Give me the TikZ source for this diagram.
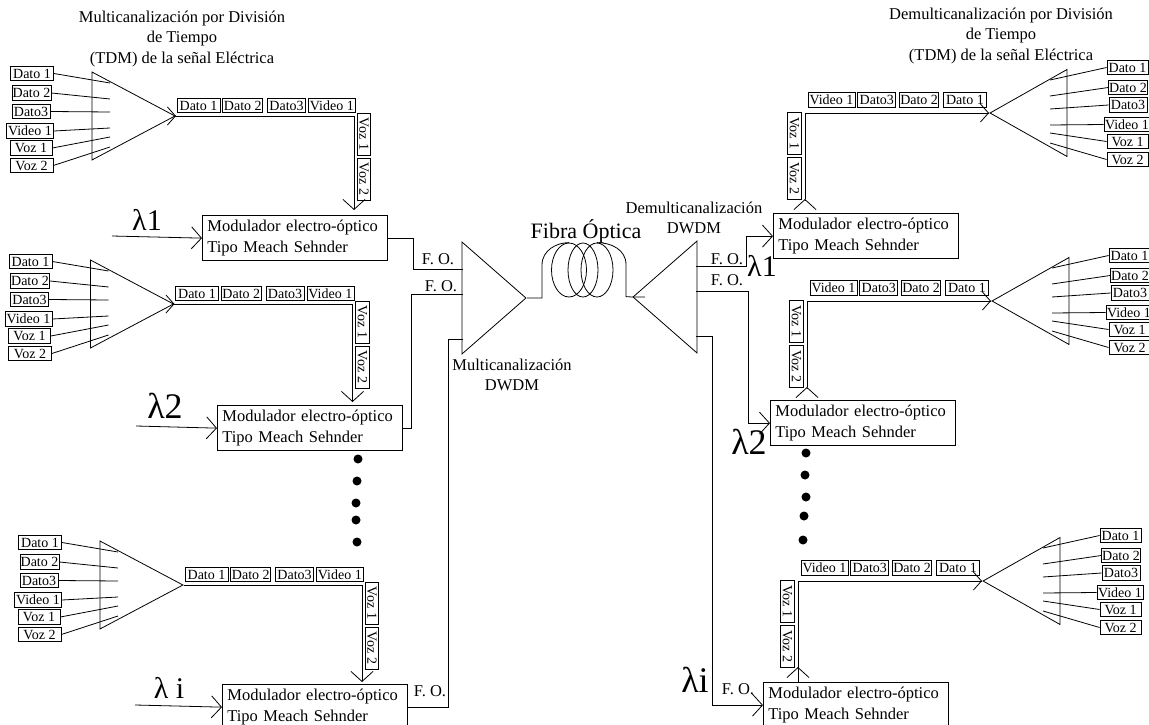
\documentclass[tikz,border=0pt]{standalone}
\usepackage{fontspec}
\setmainfont{Liberation Serif}
\usetikzlibrary{positioning, arrows.meta, shapes.geometric, calc}

\begin{document}
\begin{tikzpicture}[x=1pt, y=-1pt, line width=0.8pt,
	font=\fontsize{16.5}{20.5}\selectfont,
	databox/.style={draw, font=\fontsize{14}{14}\selectfont, inner sep=0.5pt, minimum height=14.5pt},
	vozbox/.style={databox, rotate=-90, minimum width=42pt, minimum height=13.5pt},
	modbox/.style={draw, anchor=north west, minimum width=185pt, minimum height=42pt, text width=175pt, inner sep=5pt, align=left},
	tribox/.style={draw, isosceles triangle, isosceles triangle stretches, inner sep=0pt, anchor=apex},
	coil/.style={draw, ellipse, inner sep=0pt, minimum height=54pt},
	dotmark/.style={circle, fill=black, inner sep=0pt, minimum size=9pt},
	lambdatext/.style={font=\fontsize{30}{30}\selectfont, inner sep=0pt},
	lambdabig/.style={font=\fontsize{36}{36}\selectfont, inner sep=0pt},
	link/.style={-},
	arrow/.style={-{Straight Barb[length=10pt, width=22pt]}},
	headonly/.style={-{Straight Barb[length=8pt, width=18pt]}}]
	\useasboundingbox (0,0) rectangle (1149,725);

	% Titulos
	\node[align=center] (title_l) at (182,39) {Multicanalización por División\\de Tiempo\\(TDM) de la señal Eléctrica};
	\node[align=center] (title_r) at (1001,36) {Demulticanalización por División\\de Tiempo\\(TDM) de la señal Eléctrica};

	% Moduladores
	\node[modbox] (mod_la) at (202,215) {Modulador electro-óptico\\Tipo Meach Sehnder};
	\node[modbox] (mod_lb) at (217,405) {Modulador electro-óptico\\Tipo Meach Sehnder};
	\node[modbox] (mod_lc) at (222,684) {Modulador electro-óptico\\Tipo Meach Sehnder};
	\node[modbox] (mod_ra) at (773,213) {Modulador electro-óptico\\Tipo Meach Sehnder};
	\node[modbox] (mod_rb) at (770,400) {Modulador electro-óptico\\Tipo Meach Sehnder};
	\node[modbox] (mod_rc) at (763,682) {Modulador electro-óptico\\Tipo Meach Sehnder};

	% Bloques TDM de la izquierda
	\foreach \unit/\dx/\dy/\tip in {la/0/0/210, lb/-1.5/188/214, lc/8/469/213} {
		\begin{scope}[shift={(\dx,\dy)}]
			\node[tribox, minimum width=88pt, minimum height=83pt] (tri_\unit) at (176,116) {};
			\foreach \k/\lab/\cx/\cy/\w/\ey in {1/Dato 1/32/73.5/43/83, 2/Dato 2/31.5/93/39/99, 3/Dato3/31/111.5/38/112,
				4/Video 1/30/131/47/128, 5/Voz 1/31/148/42/137, 6/Voz 2/31.5/165.5/43/147} {
				\node[databox, minimum width=\w pt] (in_\unit\k) at (\cx,\cy) {\lab};
				\coordinate (end_\unit\k) at (110,\ey);
				\draw[link] (in_\unit\k.east) -- (end_\unit\k);
			}
			\node[databox, minimum width=43pt] (top_\unit1) at (198.5,105.5) {Dato 1};
			\node[databox, minimum width=40pt, right=2pt of top_\unit1] (top_\unit2) {Dato 2};
			\node[databox, minimum width=38pt, right=4pt of top_\unit2] (top_\unit3) {Dato3};
			\node[databox, minimum width=47pt, right=2pt of top_\unit3] (top_\unit4) {Video 1};
			\node[vozbox] (voz_\unit1) at (364,134) {Voz 1};
			\node[vozbox] (voz_\unit2) at (364,179) {Voz 2};
			\coordinate (tip_\unit) at (354,\tip);
			\draw[arrow] (tri_\unit.apex) -| (tip_\unit);
		\end{scope}
	}
	\foreach \unit in {la, lb} {
		\draw[headonly] ($(tri_\unit.apex)+(-1,0)$) -- (tri_\unit.apex);
	}

	% Bloques TDM de la derecha
	\foreach \unit/\dx/\dy in {ra/0/0, rb/2/188, rc/-7/468} {
		\begin{scope}[shift={(\dx,\dy)}]
			\node[tribox, minimum width=87pt, minimum height=77pt, shape border rotate=180] (tri_\unit) at (989,113) {};
			\foreach \k/\lab/\cx/\cy/\w/\ey in {1/Dato 1/1127.5/67.5/41/80, 2/Dato 2/1128/87.5/38/96, 3/Dato3/1128/105/38/109,
				4/Video 1/1127/124.5/46/125, 5/Voz 1/1127.5/141.5/41/133, 6/Voz 2/1127.5/159.5/41/143} {
				\node[databox, minimum width=\w pt] (in_\unit\k) at (\cx,\cy) {\lab};
				\coordinate (end_\unit\k) at (1050,\ey);
				\draw[link] (in_\unit\k.west) -- (end_\unit\k);
			}
			\node[databox, minimum width=47pt] (top_\unit1) at (831.5,100) {Video 1};
			\node[databox, minimum width=38pt, right=2pt of top_\unit1] (top_\unit2) {Dato3};
			\node[databox, minimum width=39pt, right=3pt of top_\unit2] (top_\unit3) {Dato 2};
			\node[databox, minimum width=43pt, right=4pt of top_\unit3] (top_\unit4) {Dato 1};
			\node[vozbox] (voz_\unit1) at (794.5,133.5) {Voz 1};
			\node[vozbox] (voz_\unit2) at (794.5,178.5) {Voz 2};
			\coordinate (tip_\unit) at (805,199);
			\draw[link] (tri_\unit.apex) -| (tip_\unit);
			\draw[arrow] ($(tip_\unit)+(0,1)$) -- (tip_\unit);
			\draw[headonly] ($(tri_\unit.apex)+(-1,0)$) -- (tri_\unit.apex);
		\end{scope}
	}
	\draw[link] (tip_rc) -- (tip_rc |- mod_rc.north);

	% Entradas de las longitudes de onda
	\coordinate (lam_la) at (112,236);
	\coordinate (lam_lb) at (136,426);
	\coordinate (lam_lc) at (135,705);
	\draw[arrow] (lam_la) -- (mod_la.west);
	\draw[arrow] (lam_lb) -- (mod_lb.west);
	\draw[arrow] (lam_lc) -- (mod_lc.west);
	\node[lambdatext] (txt_la) at (147,220) {λ1};
	\node[lambdabig] (txt_lb) at (165,406) {λ2};
	\node[lambdatext] (txt_lc) at (169,688) {λ i};
	\node[lambdatext] (txt_ra) at (762,266) {λ1};
	\node[lambdabig] (txt_rb) at (749,442) {λ2};
	\node[lambdabig] (txt_rc) at (695,680) {λi};

	% Multiplexor DWDM
	\node[tribox, minimum width=112pt, minimum height=64pt] (mux) at (527,298) {};
	\coordinate (mux_a) at (463,269);
	\coordinate (mux_b) at (463,294);
	\coordinate (mux_c) at (463,339);
	\draw[link] (mod_la.east) -- ++(26,0) |- (mux_a);
	\draw[link] (mod_lb.east) -- ++(9,0) |- (mux_b);
	\draw[link] (mod_lc.east) -- ++(41,0) |- (mux_c);
	\node (fo_la) at (438,259) {F. O.};
	\node (fo_lb) at (441,286) {F. O.};
	\node (fo_lc) at (430,691) {F. O.};
	\node[align=center] (mux_txt) at (512,375) {Multicanalización\\DWDM};

	% Fibra
	\node[coil, minimum width=35pt] (coil_a) at (569,270) {};
	\node[coil, minimum width=30pt] (coil_b) at (583,270) {};
	\node[coil, minimum width=32pt] (coil_c) at (597,270) {};
	\node[font=\fontsize{22}{22}\selectfont] (fibra_txt) at (586,231) {Fibra Óptica};

	% Demultiplexor DWDM
	\node[tribox, minimum width=112pt, minimum height=64pt, shape border rotate=180] (demux) at (632,297) {};
	\coordinate (dm_a) at (696,266);
	\coordinate (dm_b) at (696,291);
	\coordinate (dm_c) at (696,336);
	\draw[link] (mux.apex) -- ++(15,0) -- ++(0,-33) .. controls +(0,-15) and +(-12,0) .. (coil_a.north);
	\draw[link] (coil_c.north) .. controls +(14,0) and +(0,-15) .. ++(29,22) -- ++(0,32) -- (demux.apex) -- ++(13,0);
	\draw[arrow] (dm_a) -- ++(50,0) |- (mod_ra.west);
	\draw[arrow] (dm_b) -- ++(52,0) |- (mod_rb.west);
	\draw[arrow] (dm_c) -- ++(16,0) |- (mod_rc.west);
	\node (fo_ra) at (727,259) {F. O.};
	\node (fo_rb) at (727,280) {F. O.};
	\node (fo_rc) at (738,689) {F. O.};
	\node[align=center] (dm_txt) at (694,218) {Demulticanalización\\DWDM};

	% Puntos suspensivos
	\foreach \i/\px/\py in {1/358/459, 2/357/481, 3/356/503, 4/356/520, 5/357/542} {
		\node[dotmark] (dot_l\i) at (\px,\py) {};
	}
	\foreach \i/\px/\py in {1/806/453, 2/805/475, 3/806/497, 4/804/516, 5/803/540} {
		\node[dotmark] (dot_r\i) at (\px,\py) {};
	}
\end{tikzpicture}
\end{document}
